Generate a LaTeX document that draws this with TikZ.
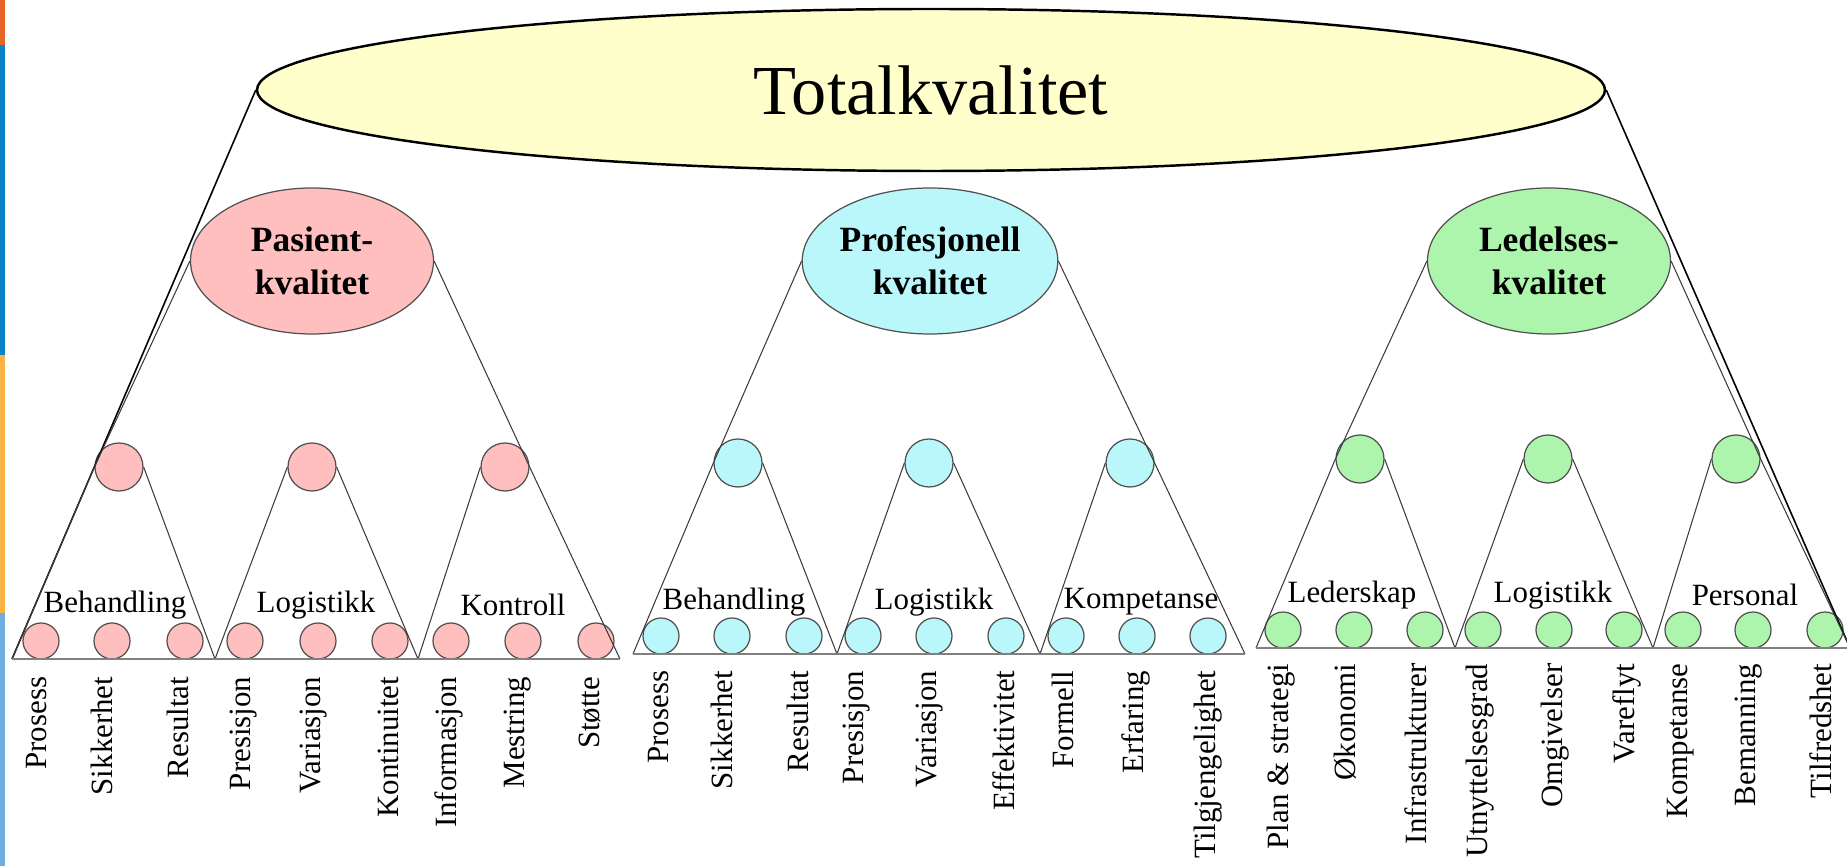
\documentclass[tikz,border=0pt]{standalone}
\usepackage{fontspec}
\setmainfont{Liberation Serif}
\usepackage{tikz}
\usetikzlibrary{shapes.geometric}
\definecolor{totalfill}{RGB}{255, 255, 204}
\definecolor{pasientfill}{RGB}{255, 191, 191}
\definecolor{profesjonellfill}{RGB}{186, 247, 250}
\definecolor{ledelsesfill}{RGB}{173, 245, 173}
\definecolor{outline}{RGB}{80, 80, 80}
\definecolor{sidegray}{RGB}{60, 60, 60}
\definecolor{groundgray}{RGB}{128, 128, 128}
\definecolor{stripeorange}{RGB}{230, 100, 40}
\definecolor{stripeblue}{RGB}{10, 130, 200}
\definecolor{stripeyellow}{RGB}{250, 180, 70}
\definecolor{stripesky}{RGB}{110, 175, 225}

\begin{document}
\begin{tikzpicture}[
        bigoval/.style   ={ellipse, draw=black, line width=0.7pt, fill=totalfill, minimum width=13.48cm,
                           minimum height=1.62cm, inner sep=0pt, font=\fontsize{20}{24}\selectfont},
        qualoval/.style  ={ellipse, draw=outline, line width=0.35pt, minimum width=2.43cm, minimum height=1.46cm,
                           inner sep=0pt, align=center, font=\fontsize{10.1}{12.2}\selectfont\bfseries},
        aspect/.style    ={circle, draw=outline, line width=0.35pt, minimum size=0.48cm, inner sep=0pt},
        leaf/.style      ={circle, draw=outline, line width=0.35pt, minimum size=0.36cm, inner sep=0pt},
        grouptext/.style ={inner sep=0pt, font=\fontsize{8.8}{10}\selectfont},
        leaftext/.style  ={rotate=90, anchor=east, inner sep=0pt, font=\fontsize{8.8}{10}\selectfont},
        sideline/.style  ={draw=sidegray, line width=0.3pt},
        groundline/.style={draw=groundgray, line width=0.6pt},
        bigline/.style   ={draw=black, line width=0.45pt}
    ]
            \useasboundingbox (0.00, 0.00) rectangle (18.47, 8.66);
            % Slide stripe
            \fill[stripeorange]  (0.00, 8.66) rectangle (0.05, 8.21);
            \fill[stripeblue]    (0.00, 8.21) rectangle (0.05, 5.11);
            \fill[stripeyellow]  (0.00, 5.11) rectangle (0.05, 2.53);
            \fill[stripesky]     (0.00, 2.53) rectangle (0.05, 0.00);
            % Top
            \node[bigoval]                        (total)        at ( 9.31, 7.76) {Totalkvalitet};
            \node[qualoval, fill=pasientfill]      (pasient)      at ( 3.12, 6.05) {Pasient-\\kvalitet};
            \node[qualoval, fill=profesjonellfill] (profesjonell) at ( 9.30, 6.05) {Profesjonell\\kvalitet};
            \node[qualoval, fill=ledelsesfill]     (ledelses)     at (15.49, 6.05) {Ledelses-\\kvalitet};
            % Pasient aspects
            \node[aspect, fill=pasientfill] (pa-a) at ( 1.19, 3.99) {};
            \node[aspect, fill=pasientfill] (pa-b) at ( 3.12, 3.99) {};
            \node[aspect, fill=pasientfill] (pa-c) at ( 5.05, 3.99) {};
            \coordinate (pa-0) at ( 0.12, 2.07);
            \coordinate (pa-1) at ( 2.15, 2.07);
            \coordinate (pa-2) at ( 4.18, 2.07);
            \coordinate (pa-3) at ( 6.20, 2.07);
            \node[grouptext] (pa-a-t) at ( 1.15, 2.61) {Behandling};
            \node[grouptext] (pa-b-t) at ( 3.16, 2.61) {Logistikk};
            \node[grouptext] (pa-c-t) at ( 5.13, 2.61) {Kontroll};
            \node[leaf, fill=pasientfill] (pa-a1) at ( 0.41, 2.25) {};
            \node[leaf, fill=pasientfill] (pa-a2) at ( 1.12, 2.25) {};
            \node[leaf, fill=pasientfill] (pa-a3) at ( 1.85, 2.25) {};
            \node[leaf, fill=pasientfill] (pa-b1) at ( 2.45, 2.25) {};
            \node[leaf, fill=pasientfill] (pa-b2) at ( 3.18, 2.25) {};
            \node[leaf, fill=pasientfill] (pa-b3) at ( 3.90, 2.25) {};
            \node[leaf, fill=pasientfill] (pa-c1) at ( 4.51, 2.25) {};
            \node[leaf, fill=pasientfill] (pa-c2) at ( 5.23, 2.25) {};
            \node[leaf, fill=pasientfill] (pa-c3) at ( 5.96, 2.25) {};
            \node[leaftext] (pa-a1-t) at ( 0.37, 1.90) {Prosess};
            \node[leaftext] (pa-a2-t) at ( 1.02, 1.90) {Sikkerhet};
            \node[leaftext] (pa-a3-t) at ( 1.78, 1.90) {Resultat};
            \node[leaftext] (pa-b1-t) at ( 2.44, 1.90) {Presisjon};
            \node[leaftext] (pa-b2-t) at ( 3.14, 1.90) {Variasjon};
            \node[leaftext] (pa-b3-t) at ( 3.88, 1.90) {Kontinuitet};
            \node[leaftext] (pa-c1-t) at ( 4.49, 1.90) {Informasjon};
            \node[leaftext] (pa-c2-t) at ( 5.18, 1.90) {Mestring};
            \node[leaftext] (pa-c3-t) at ( 5.90, 1.90) {Støtte};
            % Profesjonell aspects
            \node[aspect, fill=profesjonellfill] (pr-a) at ( 7.38, 4.03) {};
            \node[aspect, fill=profesjonellfill] (pr-b) at ( 9.29, 4.03) {};
            \node[aspect, fill=profesjonellfill] (pr-c) at (11.30, 4.03) {};
            \coordinate (pr-0) at ( 6.33, 2.12);
            \coordinate (pr-1) at ( 8.37, 2.12);
            \coordinate (pr-2) at (10.40, 2.12);
            \coordinate (pr-3) at (12.45, 2.12);
            \node[grouptext] (pr-a-t) at ( 7.34, 2.64) {Behandling};
            \node[grouptext] (pr-b-t) at ( 9.34, 2.64) {Logistikk};
            \node[grouptext] (pr-c-t) at (11.41, 2.64) {Kompetanse};
            \node[leaf, fill=profesjonellfill] (pr-a1) at ( 6.61, 2.30) {};
            \node[leaf, fill=profesjonellfill] (pr-a2) at ( 7.32, 2.30) {};
            \node[leaf, fill=profesjonellfill] (pr-a3) at ( 8.04, 2.30) {};
            \node[leaf, fill=profesjonellfill] (pr-b1) at ( 8.63, 2.30) {};
            \node[leaf, fill=profesjonellfill] (pr-b2) at ( 9.34, 2.30) {};
            \node[leaf, fill=profesjonellfill] (pr-b3) at (10.06, 2.30) {};
            \node[leaf, fill=profesjonellfill] (pr-c1) at (10.66, 2.30) {};
            \node[leaf, fill=profesjonellfill] (pr-c2) at (11.37, 2.30) {};
            \node[leaf, fill=profesjonellfill] (pr-c3) at (12.08, 2.30) {};
            \node[leaftext] (pr-a1-t) at ( 6.59, 1.96) {Prosess};
            \node[leaftext] (pr-a2-t) at ( 7.22, 1.96) {Sikkerhet};
            \node[leaftext] (pr-a3-t) at ( 7.98, 1.96) {Resultat};
            \node[leaftext] (pr-b1-t) at ( 8.57, 1.96) {Presisjon};
            \node[leaftext] (pr-b2-t) at ( 9.30, 1.96) {Variasjon};
            \node[leaftext] (pr-b3-t) at (10.04, 1.96) {Effektivitet};
            \node[leaftext] (pr-c1-t) at (10.63, 1.96) {Formell};
            \node[leaftext] (pr-c2-t) at (11.36, 1.96) {Erfaring};
            \node[leaftext] (pr-c3-t) at (12.08, 1.96) {Tilgjengelighet};
            % Ledelses aspects
            \node[aspect, fill=ledelsesfill] (le-a) at (13.60, 4.07) {};
            \node[aspect, fill=ledelsesfill] (le-b) at (15.48, 4.07) {};
            \node[aspect, fill=ledelsesfill] (le-c) at (17.36, 4.07) {};
            \coordinate (le-0) at (12.56, 2.18);
            \coordinate (le-1) at (14.55, 2.18);
            \coordinate (le-2) at (16.53, 2.18);
            \coordinate (le-3) at (18.50, 2.18);
            \node[grouptext] (le-a-t) at (13.52, 2.71) {Lederskap};
            \node[grouptext] (le-b-t) at (15.53, 2.71) {Logistikk};
            \node[grouptext] (le-c-t) at (17.45, 2.71) {Personal};
            \node[leaf, fill=ledelsesfill] (le-a1) at (12.83, 2.36) {};
            \node[leaf, fill=ledelsesfill] (le-a2) at (13.54, 2.36) {};
            \node[leaf, fill=ledelsesfill] (le-a3) at (14.25, 2.36) {};
            \node[leaf, fill=ledelsesfill] (le-b1) at (14.83, 2.36) {};
            \node[leaf, fill=ledelsesfill] (le-b2) at (15.54, 2.36) {};
            \node[leaf, fill=ledelsesfill] (le-b3) at (16.24, 2.36) {};
            \node[leaf, fill=ledelsesfill] (le-c1) at (16.83, 2.36) {};
            \node[leaf, fill=ledelsesfill] (le-c2) at (17.53, 2.36) {};
            \node[leaf, fill=ledelsesfill] (le-c3) at (18.25, 2.36) {};
            \node[leaftext] (le-a1-t) at (12.81, 2.03) {Plan \& strategi};
            \node[leaftext] (le-a2-t) at (13.45, 2.03) {Økonomi};
            \node[leaftext] (le-a3-t) at (14.16, 2.03) {Infrastrukturer};
            \node[leaftext] (le-b1-t) at (14.80, 2.03) {Utnyttelsesgrad};
            \node[leaftext] (le-b2-t) at (15.55, 2.03) {Omgivelser};
            \node[leaftext] (le-b3-t) at (16.27, 2.03) {Vareflyt};
            \node[leaftext] (le-c1-t) at (16.81, 2.03) {Kompetanse};
            \node[leaftext] (le-c2-t) at (17.49, 2.03) {Bemanning};
            \node[leaftext] (le-c3-t) at (18.21, 2.03) {Tilfredshet};
            % Outer lines
            \draw[bigline]    (total.west)        -- (pa-0);
            \draw[bigline]    (total.east)        -- (le-3);
            % Pasient triangles
            \draw[sideline]   (pasient.west)      -- (pa-a.west);
            \draw[sideline]   (pasient.east)      -- (pa-c.east);
            \draw[sideline]   (pa-0) -- (pa-a.west)  (pa-a.east) -- (pa-1);
            \draw[sideline]   (pa-1) -- (pa-b.west)  (pa-b.east) -- (pa-2);
            \draw[sideline]   (pa-2) -- (pa-c.west)  (pa-c.east) -- (pa-3);
            \draw[groundline] (pa-0) -- (pa-3);
            % Profesjonell triangles
            \draw[sideline]   (profesjonell.west) -- (pr-a.west);
            \draw[sideline]   (profesjonell.east) -- (pr-c.east);
            \draw[sideline]   (pr-0) -- (pr-a.west)  (pr-a.east) -- (pr-1);
            \draw[sideline]   (pr-1) -- (pr-b.west)  (pr-b.east) -- (pr-2);
            \draw[sideline]   (pr-2) -- (pr-c.west)  (pr-c.east) -- (pr-3);
            \draw[groundline] (pr-0) -- (pr-3);
            % Ledelses triangles
            \draw[sideline]   (ledelses.west)     -- (le-a.west);
            \draw[sideline]   (ledelses.east)     -- (le-c.east);
            \draw[sideline]   (le-0) -- (le-a.west)  (le-a.east) -- (le-1);
            \draw[sideline]   (le-1) -- (le-b.west)  (le-b.east) -- (le-2);
            \draw[sideline]   (le-2) -- (le-c.west)  (le-c.east) -- (le-3);
            \draw[groundline] (le-0) -- (le-3);
\end{tikzpicture}
\end{document}
